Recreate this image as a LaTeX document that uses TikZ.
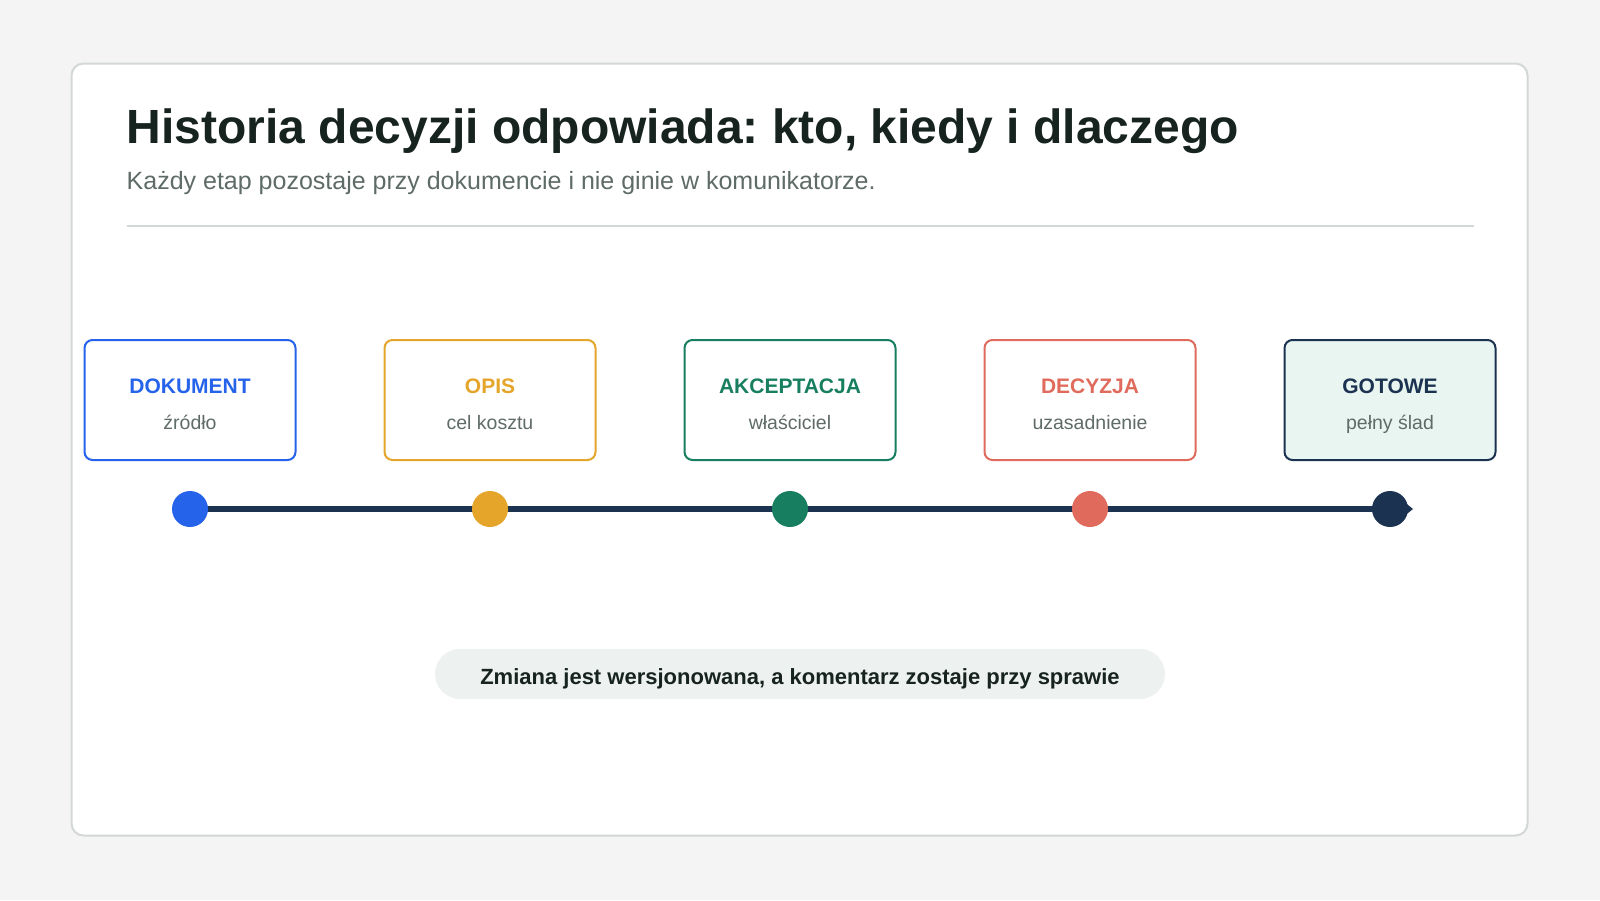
\documentclass[tikz,border=0pt]{standalone}
\usepackage{fontspec}
\setmainfont{Liberation Sans}
\usetikzlibrary{arrows.meta,backgrounds}
\usepackage{xcolor}
\definecolor{paper}{HTML}{F3F4F3}
\definecolor{rim}{HTML}{D3D8D6}
\definecolor{ink}{HTML}{17231F}
\definecolor{muted}{HTML}{5F6B67}
\definecolor{source}{HTML}{2563EB}
\definecolor{purpose}{HTML}{E5A52B}
\definecolor{owner}{HTML}{177F5F}
\definecolor{reason}{HTML}{E06B5C}
\definecolor{done}{HTML}{1B3350}
\definecolor{donefill}{HTML}{E8F5F0}
\definecolor{pill}{HTML}{EDF1EF}
\frenchspacing

\begin{document}
\begin{tikzpicture}[x=1pt,y=-1pt,
		stage/.style={draw=#1, line width=2pt, rounded corners=8pt, fill=white,
			minimum width=211pt, minimum height=120pt, inner sep=0pt},
		stagehead/.style={anchor=base, inner sep=0pt, text=#1,
			font=\fontsize{21}{25}\selectfont\bfseries},
		stagesub/.style={anchor=base, inner sep=0pt, text=muted,
			font=\fontsize{19.5}{24}\selectfont},
		stagedot/.style={circle, fill=#1, inner sep=0pt, minimum size=36pt}]
		\useasboundingbox (0,0) rectangle (1600,900);
		\begin{scope}[on background layer]
			\fill [paper] (0,0) rectangle (1600,900);
			\draw [rim, fill=white, line width=2pt, rounded corners=12pt] (71.5,63.5) rectangle (1527.5,835.5);
		\end{scope}
		%
		\node [anchor=base west, inner sep=0pt, text=ink, font=\fontsize{48}{58}\selectfont\bfseries] (title) at (126.5,143) {Historia decyzji odpowiada: kto, kiedy i dlaczego};
		\node [anchor=base west, inner sep=0pt, text=muted, font=\fontsize{25}{30}\selectfont] (lead) at (126.5,189) {Każdy etap pozostaje przy dokumencie i nie ginie w komunikatorze.};
		\draw [rim, line width=2pt] (126.5,225.5) -- (1473.5,225.5);
		%
		\begin{scope}[shift={(190,0)}]
			\node [stage=source] (b1) at (0,400) {};
			\node [stagehead=source] (h1) at (0,393) {DOKUMENT};
			\node [stagesub] (s1) at (0,429) {źródło};
			\node [stagedot=source] (d1) at (0,509) {};
		\end{scope}
		%
		\begin{scope}[shift={(490,0)}]
			\node [stage=purpose] (b2) at (0,400) {};
			\node [stagehead=purpose] (h2) at (0,393) {OPIS};
			\node [stagesub] (s2) at (0,429) {cel kosztu};
			\node [stagedot=purpose] (d2) at (0,509) {};
		\end{scope}
		%
		\begin{scope}[shift={(790,0)}]
			\node [stage=owner] (b3) at (0,400) {};
			\node [stagehead=owner] (h3) at (0,393) {AKCEPTACJA};
			\node [stagesub] (s3) at (0,429) {właściciel};
			\node [stagedot=owner] (d3) at (0,509) {};
		\end{scope}
		%
		\begin{scope}[shift={(1090,0)}]
			\node [stage=reason] (b4) at (0,400) {};
			\node [stagehead=reason] (h4) at (0,393) {DECYZJA};
			\node [stagesub] (s4) at (0,429) {uzasadnienie};
			\node [stagedot=reason] (d4) at (0,509) {};
		\end{scope}
		%
		\begin{scope}[shift={(1390,0)}]
			\node [stage=done, fill=donefill] (b5) at (0,400) {};
			\node [stagehead=done] (h5) at (0,393) {GOTOWE};
			\node [stagesub] (s5) at (0,429) {pełny ślad};
			\node [stagedot=done] (d5) at (0,509) {};
			\coordinate (tip) at (23,509);
		\end{scope}
		%
		\begin{scope}[on background layer]
			\draw [done, line width=6pt, -{Triangle[length=9pt,width=14pt]}] (d1.center) -- (tip);
		\end{scope}
		%
		\node [fill=pill, rounded corners=25pt, minimum width=730pt, minimum height=50pt, text=ink,
			text height=20pt, text depth=0pt,
			font=\fontsize{22}{26}\selectfont\bfseries] (note) at (800,674) {Zmiana jest wersjonowana, a komentarz zostaje przy sprawie};
	\end{tikzpicture}
\end{document}
